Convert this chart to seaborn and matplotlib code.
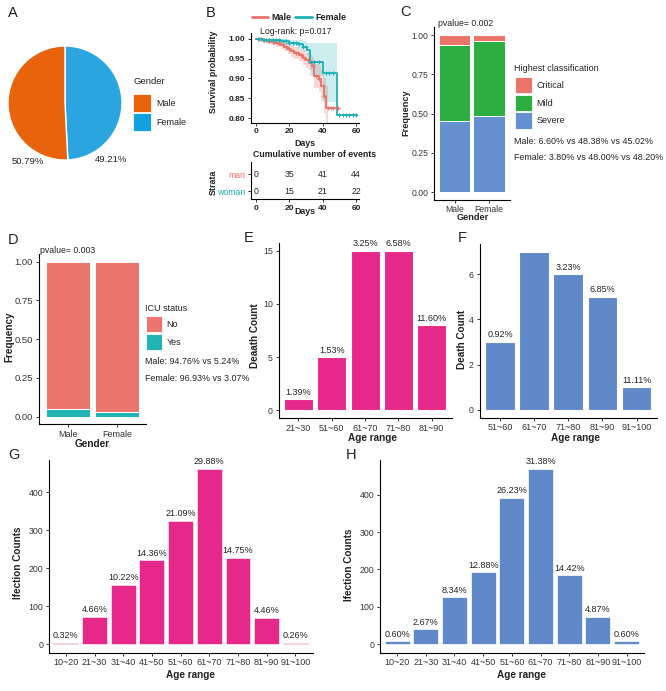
import numpy as np
import pandas as pd
import matplotlib
matplotlib.use("Agg")
import matplotlib.pyplot as plt
from matplotlib.patches import Rectangle
import seaborn as sns

# ---------------- data ----------------
gender = ["Male", "Female"]
gender_pct = [50.79, 49.21]

male_t = [0, 3, 6, 9, 12, 15, 17, 19, 21, 23, 26, 28, 30, 32, 33.5, 35, 37.5, 39, 40.8, 42, 49.4]
male_s = [1.0, 0.998, 0.995, 0.992, 0.988, 0.984, 0.980, 0.974, 0.968, 0.963, 0.959, 0.952,
          0.946, 0.940, 0.932, 0.905, 0.898, 0.880, 0.856, 0.826, 0.826]
male_band_t = [0, 3, 6, 9, 12, 15, 17, 19, 21, 23, 26, 28, 30, 32, 33.5, 35, 37.5, 39, 40.8, 42, 43]
male_hi = [1.0, 1.0, 1.0, 0.999, 0.997, 0.994, 0.991, 0.987, 0.982, 0.978, 0.975, 0.970,
           0.965, 0.960, 0.955, 0.937, 0.932, 0.920, 0.902, 0.882, 0.882]
male_lo = [1.0, 0.995, 0.990, 0.985, 0.979, 0.974, 0.969, 0.961, 0.954, 0.948, 0.943, 0.934,
           0.927, 0.920, 0.909, 0.875, 0.866, 0.842, 0.812, 0.775, 0.775]
male_cens = [2, 4, 5, 7, 8, 10, 11, 13, 14, 16, 18, 20, 22, 24, 25, 27, 29, 31, 34, 36,
             38, 40, 41, 43, 45, 46, 48, 49]

fem_t = [0, 5, 10, 15, 20, 25, 28, 30.8, 32.4, 40.4, 48.4, 60.4]
fem_s = [1.0, 0.998, 0.996, 0.993, 0.990, 0.986, 0.980, 0.972, 0.942, 0.913, 0.808, 0.808]
fem_band_t = [0, 5, 10, 15, 20, 25, 28, 30.8, 32.4, 40.4, 48.4]
fem_hi = [1.0, 1.0, 1.0, 0.999, 0.998, 0.996, 0.993, 0.990, 0.990, 0.990, 0.990]
fem_lo = [1.0, 0.994, 0.990, 0.985, 0.981, 0.975, 0.966, 0.953, 0.905, 0.840, 0.840]
fem_cens = [1, 3, 5, 6, 8, 10, 12, 14, 16, 18, 20, 22, 24, 26, 28, 30, 33, 35, 38, 42,
            44, 46, 50, 52, 54, 56, 58, 60]

risk_times = [0, 20, 40, 60]
risk_man = [0, 35, 41, 44]
risk_woman = [0, 15, 21, 22]

sev_levels = ["Critical", "Mild", "Severe"]
sev_male = [0.0660, 0.4838, 0.4502]
sev_female = [0.0380, 0.4800, 0.4820]

icu_levels = ["No", "Yes"]
icu_male = [0.9476, 0.0524]
icu_female = [0.9693, 0.0307]

e_cats = ["21~30", "51~60", "61~70", "71~80", "81~90"]
e_vals = [1, 5, 15, 15, 8]
e_labs = ["1.39%", "1.53%", "3.25%", "6.58%", "11.60%"]

f_cats = ["51~60", "61~70", "71~80", "81~90", "91~100"]
f_vals = [3, 7, 6, 5, 1]
f_labs = ["0.92%", "", "3.23%", "6.85%", "11.11%"]

age_cats = ["10~20", "21~30", "31~40", "41~50", "51~60", "61~70", "71~80", "81~90", "91~100"]
g_vals = [4, 72, 157, 221, 325, 462, 227, 69, 3]
g_labs = ["0.32%", "4.66%", "10.22%", "14.36%", "21.09%", "29.88%", "14.75%", "4.46%", "0.26%"]
h_vals = [8, 39, 125, 193, 392, 470, 185, 73, 8]
h_labs = ["0.60%", "2.67%", "8.34%", "12.88%", "26.23%", "31.38%", "14.42%", "4.87%", "0.60%"]

# ---------------- colours ----------------
ORANGE, SKY = "#E9620C", "#2BA5DF"
KM_M, KM_F = "#E8736B", "#1FB0B5"
C_COLS = {"Critical": "#EB746B", "Mild": "#2DAE41", "Severe": "#6590CF"}
D_COLS = {"No": "#EB766D", "Yes": "#22B4B4"}
PINK, BLUE = "#E6288A", "#6089C9"
TXT = "#222222"

# ---------------- setup ----------------
sns.set_theme(style="ticks")
plt.rcParams["font.family"] = ["Liberation Sans", "DejaVu Sans"]
plt.rcParams["axes.linewidth"] = 0.8
W, H = 666, 691
fig = plt.figure(figsize=(6.66, 6.91), dpi=100)
fig.patch.set_facecolor("white")


def px_axes(box):
    l, t, r, b = box
    return fig.add_axes([l / W, 1 - b / H, (r - l) / W, (b - t) / H])


ov = fig.add_axes([0, 0, 1, 1], zorder=10)
ov.set_xlim(0, W)
ov.set_ylim(H, 0)
ov.axis("off")
ov.patch.set_alpha(0)


def txt(x, y, s, size=6.5, ha="left", **kw):
    ov.text(x, y, s, fontsize=size, ha=ha, va="center", color=kw.pop("color", TXT), **kw)


def style(ax, ysize=6.5, xsize=6.5):
    sns.despine(ax=ax)
    for sp in ("left", "bottom"):
        ax.spines[sp].set_color("black")
        ax.spines[sp].set_linewidth(0.8)
    ax.tick_params(length=2.5, width=0.7, pad=1.5, color="#333333", labelcolor="#333333")
    ax.tick_params(axis="y", labelsize=ysize)
    ax.tick_params(axis="x", labelsize=xsize)
    ax.grid(False)


def labels(ax, box, xl, yl, xpos, ypos, size=7.2):
    l, t, r, b = box
    ax.set_xlabel(xl, fontsize=size, fontweight="bold", color=TXT)
    ax.set_ylabel(yl, fontsize=size, fontweight="bold", color=TXT)
    ax.xaxis.label.set_va("center")
    ax.yaxis.label.set_va("center")
    if xpos is not None:
        ax.xaxis.set_label_coords((xpos[0] - l) / (r - l), (b - xpos[1]) / (b - t))
    if ypos is not None:
        ax.yaxis.set_label_coords((ypos[0] - l) / (r - l), (b - ypos[1]) / (b - t))


def legend_boxes(x, ys, cols, names, w=17, h=16.5):
    for y, c, n in zip(ys, cols, names):
        ov.add_patch(Rectangle((x, y - h / 2), w, h, facecolor=c, edgecolor="white", lw=0.6))
        txt(x + w + 5, y, n)


# panel letters
for letter, x, y in [("A", 8, 13), ("B", 206, 13), ("C", 400, 12), ("D", 8, 240),
                     ("E", 244, 238), ("F", 458, 238), ("G", 8, 455), ("H", 346, 455)]:
    txt(x, y, letter, size=10.5)

# ---------------- A: pie ----------------
axA = px_axes((8, 46, 122, 160))
axA.pie([gender_pct[1], gender_pct[0]], colors=[SKY, ORANGE], startangle=90,
        counterclock=False, radius=1)
axA.set_xlim(-1, 1)
axA.set_ylim(-1, 1)
axA.text(-0.66, -1.03, f"{gender_pct[0]:.2f}%", ha="center", va="center", fontsize=6.8,
         color=TXT, clip_on=False)
axA.text(0.80, -0.99, f"{gender_pct[1]:.2f}%", ha="center", va="center", fontsize=6.8,
         color=TXT, clip_on=False)
txt(133, 81, "Gender", size=6.8)
legend_boxes(133, [103, 122], [ORANGE, "#11A0E0"], gender, w=18, h=18)

# ---------------- B: survival ----------------
boxB = (250.7, 33, 359, 122.7)
axB = px_axes(boxB)
axB.fill_between(male_band_t, male_lo, male_hi, step="post", color=KM_M, alpha=0.28, lw=0)
axB.fill_between(fem_band_t, fem_lo, fem_hi, step="post", color=KM_F, alpha=0.22, lw=0)
sns.lineplot(x=male_t, y=male_s, drawstyle="steps-post", color=KM_M, lw=1.3, ax=axB, estimator=None)
sns.lineplot(x=fem_t, y=fem_s, drawstyle="steps-post", color=KM_F, lw=1.3, ax=axB, estimator=None)
for ct, tt, ss, col in [(male_cens, male_t, male_s, KM_M), (fem_cens, fem_t, fem_s, KM_F)]:
    idx = np.searchsorted(np.array(tt), np.array(ct), side="right") - 1
    axB.plot(ct, np.array(ss)[idx], "+", color=col, ms=3.5, mew=0.8)
axB.set_xlim(-3.2, 61.8)
axB.set_ylim(0.7884, 1.0144)
axB.set_xticks(risk_times)
axB.set_yticks([0.80, 0.85, 0.90, 0.95, 1.00])
axB.set_yticklabels([f"{v:.2f}" for v in [0.80, 0.85, 0.90, 0.95, 1.00]])
style(axB, 6.0, 6.0)
for lab in axB.get_xticklabels() + axB.get_yticklabels():
    lab.set_fontweight("bold")
    lab.set_color(TXT)
labels(axB, boxB, "Days", "Survival probability", (304.5, 143.5), (213, 72), size=6.4)
# legend + log-rank
ov.plot([251.7, 268], [17, 17], color=KM_M, lw=2)
ov.plot([295, 311.7], [17, 17], color=KM_F, lw=2)
txt(271.5, 17, "Male", size=6.5, fontweight="bold")
txt(315, 17, "Female", size=6.5, fontweight="bold")
txt(260, 31, "Log-rank: p=0.017", size=6.3)
txt(314.5, 154.5, "Cumulative number of events", size=6.3, ha="center", fontweight="bold")

boxR = (250.7, 162, 359, 199)
axR = px_axes(boxR)
for t, a, b in zip(risk_times, risk_man, risk_woman):
    axR.text(t, 2, str(a), ha="center", va="center", fontsize=6.3, color=TXT)
    axR.text(t, 1, str(b), ha="center", va="center", fontsize=6.3, color=TXT)
axR.set_xlim(-3.2, 61.8)
axR.set_ylim(0.53, 2.706)
axR.set_xticks(risk_times)
axR.set_yticks([1, 2])
axR.set_yticklabels(["woman", "man"])
style(axR, 6.3, 6.0)
for lab, col in zip(axR.get_yticklabels(), [KM_F, KM_M]):
    lab.set_color(col)
for lab in axR.get_xticklabels():
    lab.set_fontweight("bold")
    lab.set_color(TXT)
labels(axR, boxR, "Days", "Strata", (304.5, 211.5), (213, 182.5), size=6.4)


# ---------------- stacked bars helper ----------------
def stacked(box, levels, male, female, cols, ysize, xsize):
    ax = px_axes(box)
    df = pd.DataFrame({"Gender": np.repeat(gender, len(levels)),
                       "level": levels * 2,
                       "freq": list(male) + list(female)})
    # cumulative tops, stacking from the last level at the bottom
    df["top"] = df.iloc[::-1].groupby("Gender")["freq"].cumsum().iloc[::-1]
    for lvl in levels:
        sub = df[df["level"] == lvl]
        sns.barplot(data=sub, x="Gender", y="top", order=gender, color=cols[lvl], width=0.9,
                    saturation=1, edgecolor="white", linewidth=0.7, errorbar=None, ax=ax)
    ax.set_xlim(-0.6, 1.6)
    ax.set_ylim(-0.05, 1.05)
    ax.set_yticks([0, 0.25, 0.5, 0.75, 1.0])
    ax.set_yticklabels(["0.00", "0.25", "0.50", "0.75", "1.00"])
    style(ax, ysize, xsize)
    return ax


# ---------------- C ----------------
boxC = (433.8, 27.2, 509.7, 199.9)
axC = stacked(boxC, sev_levels, sev_male, sev_female, C_COLS, 6.2, 6.2)
labels(axC, boxC, "Gender", "Frequency", (472.5, 218), (405.7, 113), size=6.6)
txt(438, 23, "pvalue= 0.002", size=6.3)
txt(514, 68, "Highest classification", size=6.5)
legend_boxes(514.5, [85, 103, 120.5], [C_COLS[l] for l in sev_levels], sev_levels)
txt(514, 141, "Male: " + " vs ".join(f"{v*100:.2f}%" for v in sev_male), size=6.4)
txt(514, 157, "Female: " + " vs ".join(f"{v*100:.2f}%" for v in sev_female), size=6.4)

# ---------------- D ----------------
boxD = (38.6, 254, 146.4, 424.5)
axD = stacked(boxD, icu_levels, icu_male, icu_female, D_COLS, 6.8, 6.5)
labels(axD, boxD, "Gender", "Frequency", (92.5, 443.8), (9.5, 337), size=7.2)
txt(40, 250, "pvalue= 0.003", size=6.3)
txt(145, 308, "ICU status", size=6.5)
legend_boxes(145.7, [324.2, 342], [D_COLS[l] for l in icu_levels], icu_levels, w=16, h=16)
txt(145, 361, "Male: " + " vs ".join(f"{v*100:.2f}%" for v in icu_male), size=6.4)
txt(145, 378, "Female: " + " vs ".join(f"{v*100:.2f}%" for v in icu_female), size=6.4)


# ---------------- simple bar panels ----------------
def bar_panel(box, cats, vals, labs, color, yticks, ylab, xpos, ypos, lw=0.8):
    ax = px_axes(box)
    df = pd.DataFrame({"age": cats, "n": vals})
    sns.barplot(data=df, x="age", y="n", order=cats, color=color, width=0.87, saturation=1,
                edgecolor="white", linewidth=lw, errorbar=None, ax=ax)
    m = max(vals)
    ax.set_xlim(-0.6, len(cats) - 0.4)
    ax.set_ylim(-0.05 * m, 1.05 * m)
    ax.set_yticks(yticks)
    for i, (v, lab) in enumerate(zip(vals, labs)):
        if lab:
            ax.annotate(lab, (i, v), xytext=(0, 1.8), textcoords="offset points",
                        ha="center", va="bottom", fontsize=6.5, color=TXT)
    style(ax, 6.3, 6.5)
    labels(ax, box, "Age range", ylab, xpos, ypos, size=7.2)
    return ax


bar_panel((278.5, 243, 451.7, 418), e_cats, e_vals, e_labs, PINK, [0, 5, 10, 15],
          "Deaath Count", (372.5, 437.7), (255, 336))
bar_panel((479.5, 243.8, 657, 417.6), f_cats, f_vals, f_labs, BLUE, [0, 2, 4, 6],
          "Death Count", (575.8, 437.7), (461.7, 339))
bar_panel((48.6, 460.1, 312.6, 652.8), age_cats, g_vals, g_labs, PINK, [0, 100, 200, 300, 400],
          "Ifection Counts", (190.8, 675), (18, 563), lw=0.4)
bar_panel((379.8, 459.9, 643.9, 652.8), age_cats, h_vals, h_labs, BLUE, [0, 100, 200, 300, 400],
          "Ifection Counts", (521.8, 675), (349, 565), lw=0.5)

fig.savefig("out.png", dpi=100, facecolor="white")
